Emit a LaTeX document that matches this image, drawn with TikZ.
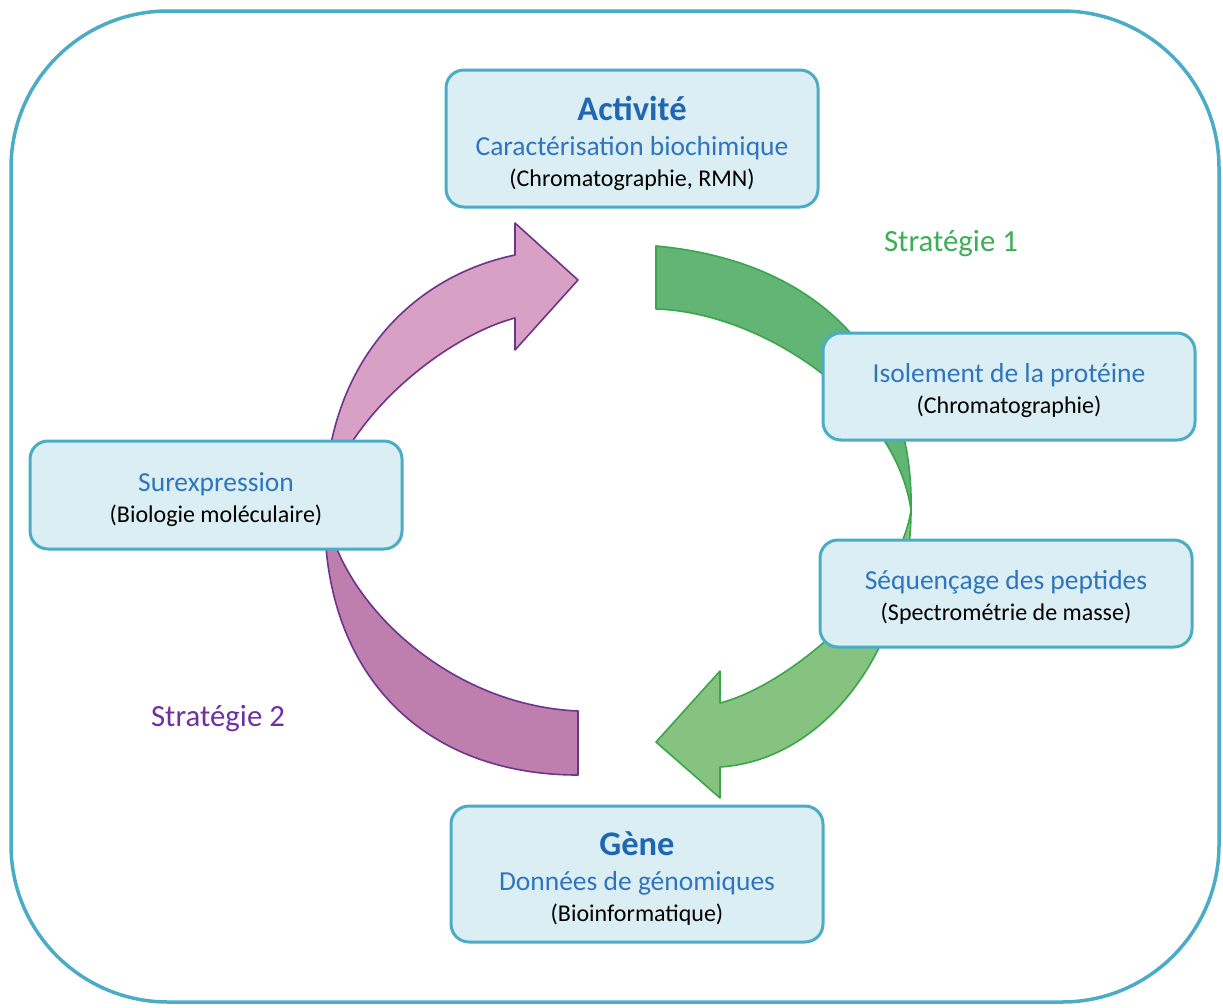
\documentclass[tikz,border=0pt]{standalone}
\usepackage{fontspec}
\setmainfont{Carlito}
\usepackage{xcolor}
\usepackage{tikz}

\definecolor{frameblue}{RGB}{75,172,198}
\definecolor{boxfill}{RGB}{218,238,243}
\definecolor{titleblue}{RGB}{31,103,177}
\definecolor{subblue}{RGB}{46,117,190}
\definecolor{greenline}{RGB}{58,165,74}
\definecolor{greendark}{RGB}{99,181,117}
\definecolor{greenlight}{RGB}{134,195,128}
\definecolor{purpleline}{RGB}{108,52,140}
\definecolor{pinklight}{RGB}{216,160,196}
\definecolor{pinkdark}{RGB}{190,127,174}
\definecolor{stratgreen}{RGB}{60,175,85}
\definecolor{stratpurple}{RGB}{112,48,160}

\newcommand{\boxtitle}[1]{{\fontsize{34.5}{31}\selectfont\bfseries\color{titleblue}#1}}
\newcommand{\boxsub}[1]{{\fontsize{27.5}{31}\selectfont\color{subblue}#1}}

\begin{document}
\begin{tikzpicture}[x=1pt, y=-1pt, line join=round,
    box/.style={draw=frameblue, line width=3pt, fill=boxfill, rounded corners=18pt,
        minimum width=372pt, inner sep=0pt},
    boxtext/.style={inner sep=0pt, align=center, font=\fontsize{24}{31}\selectfont},
    greenarc/.style={draw=greenline, line width=1.6pt},
    purplearc/.style={draw=purpleline, line width=1.6pt},
    strat/.style={font=\fontsize{30.8}{34}\selectfont}]
    \useasboundingbox (0,0) rectangle (1223,1007);

    % --- Outer frame ---
    \draw[frameblue, line width=3.5pt, rounded corners=157pt]
        (11,11) rectangle (1219,1002);

    % --- Strategy 1 (green, clockwise on the right) ---
    \draw[greenarc, fill=greendark]
        (656,246) .. controls (830,262) and (914,372) .. (911,510)
        .. controls (895,400) and (760,312) .. (656,309) -- cycle;
    \draw[greenarc, fill=greenlight]
        (911,510) .. controls (911,640) and (830,760) .. (720,767)
        -- (720,798) -- (656,742) -- (720,671) -- (720,703)
        .. controls (790,685) and (900,590) .. (911,510) -- cycle;

    % --- Strategy 2 (purple, clockwise on the left) ---
    \draw[purplearc, fill=pinkdark]
        (325,500) .. controls (318,670) and (420,775) .. (578,775)
        -- (578,711) .. controls (440,705) and (330,590) .. (325,500) -- cycle;
    \draw[purplearc, fill=pinklight]
        (325,500) .. controls (327,370) and (405,278) .. (515,255)
        -- (515,223) -- (578,280) -- (515,350) -- (515,318)
        .. controls (450,335) and (350,410) .. (325,500) -- cycle;

    % --- Boxes ---
    \node[box, minimum height=137pt] (act) at (632,138.5) {};
    \node[box, minimum height=107pt] (iso) at (1009,386.5) {};
    \node[box, minimum height=107pt] (seq) at (1006,593.5) {};
    \node[box, minimum height=108pt] (surex) at (216,495) {};
    \node[box, minimum height=136pt] (gene) at (637,874) {};

    % --- Box texts ---
    \node[boxtext] (acttext) at ([yshift=-4.5pt]act.center)
        {\boxtitle{Activité}\\[4pt] \boxsub{Caractérisation biochimique}\\ (Chromatographie, RMN)};
    \node[boxtext] (isotext) at ([yshift=-4.5pt]iso.center)
        {\boxsub{Isolement de la protéine}\\ (Chromatographie)};
    \node[boxtext] (seqtext) at ([yshift=-3.5pt]seq.center)
        {\boxsub{Séquençage des peptides}\\ (Spectrométrie de masse)};
    \node[boxtext] (surextext) at ([yshift=-5pt]surex.center)
        {\boxsub{Surexpression}\\ (Biologie moléculaire)};
    \node[boxtext] (genetext) at ([yshift=-5pt]gene.center)
        {\boxtitle{Gène}\\[4pt] \boxsub{Données de génomiques}\\ (Bioinformatique)};

    % --- Strategy labels ---
    \node[strat, text=stratgreen] (strat1) at (951,244) {Stratégie 1};
    \node[strat, text=stratpurple] (strat2) at (218,719) {Stratégie 2};

\end{tikzpicture}
\end{document}
